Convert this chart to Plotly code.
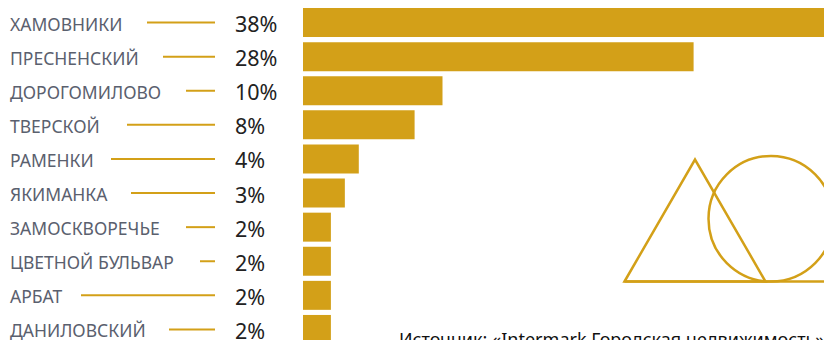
import plotly.graph_objects as go

districts = ["ХАМОВНИКИ", "ПРЕСНЕНСКИЙ", "ДОРОГОМИЛОВО", "ТВЕРСКОЙ", "РАМЕНКИ",
             "ЯКИМАНКА", "ЗАМОСКВОРЕЧЬЕ", "ЦВЕТНОЙ БУЛЬВАР", "АРБАТ", "ДАНИЛОВСКИЙ"]
shares = [38, 28, 10, 8, 4, 3, 2, 2, 2, 2]
source_text = "Источник: «Intermark Городская недвижимость»"

# layout / style constants (pixels in an 824x340 canvas)
W, H = 824, 340
GOLD = "#D3A018"
LABEL_COLOR = "#5A606E"
VALUE_COLOR = "#222222"
leader_start_px = [147, 163, 186, 127, 111, 131, 186, 200, 81, 169]
leader_end_px = 215
plot_left_px = 303
px_per_unit = 13.95

def px(x):
    return x / W

def py(y):
    return 1 - y / H

fig = go.Figure()
fig.add_trace(go.Bar(
    x=shares, y=list(range(len(districts))), orientation="h",
    marker=dict(color=GOLD, line=dict(width=0)),
    hoverinfo="skip", showlegend=False,
))

annotations = []
shapes = []
for i, (name, v) in enumerate(zip(districts, shares)):
    annotations.append(dict(x=px(8), y=i, xref="paper", yref="y", text=name,
                            showarrow=False, xanchor="left", yanchor="middle",
                            font=dict(family="Noto Sans", size=17.5, color=LABEL_COLOR), yshift=-1))
    annotations.append(dict(x=px(233), y=i, xref="paper", yref="y", text=f"{v}%",
                            showarrow=False, xanchor="left", yanchor="middle",
                            font=dict(family="Noto Sans", size=21.5, color=VALUE_COLOR), yshift=-1))
    shapes.append(dict(type="line", xref="paper", yref="y",
                       x0=px(leader_start_px[i]), x1=px(leader_end_px), y0=i, y1=i,
                       line=dict(color=GOLD, width=2)))

annotations.append(dict(x=px(397), y=py(325), xref="paper", yref="paper", text=source_text,
                        showarrow=False, xanchor="left", yanchor="top",
                        font=dict(family="Noto Sans", size=18, color="#111111")))

# decorative triangle, circle and base line
tri = f"M {px(624.5)} {py(281.5)} L {px(695)} {py(159.5)} L {px(765.5)} {py(281.5)} Z"
shapes.append(dict(type="path", xref="paper", yref="paper", path=tri,
                   line=dict(color=GOLD, width=2.5)))
shapes.append(dict(type="circle", xref="paper", yref="paper",
                   x0=px(708.5), x1=px(833.5), y0=py(281.5), y1=py(156),
                   line=dict(color=GOLD, width=2.5)))
shapes.append(dict(type="line", xref="paper", yref="paper",
                   x0=px(624.5), x1=px(830), y0=py(281.5), y1=py(281.5),
                   line=dict(color=GOLD, width=2.5)))

pitch = 34.1
top_band = 5.5
y_top = -0.5 - top_band / pitch
y_bottom = y_top + H / pitch

fig.update_layout(
    width=W, height=H,
    margin=dict(l=0, r=0, t=0, b=0),
    paper_bgcolor="white", plot_bgcolor="white",
    bargap=0.15,
    xaxis=dict(domain=[plot_left_px / W, 1], range=[0, (W - plot_left_px) / px_per_unit],
               visible=False, fixedrange=True),
    yaxis=dict(range=[y_bottom, y_top], visible=False, fixedrange=True),
    annotations=annotations, shapes=shapes,
)

fig.write_html("out.html")
